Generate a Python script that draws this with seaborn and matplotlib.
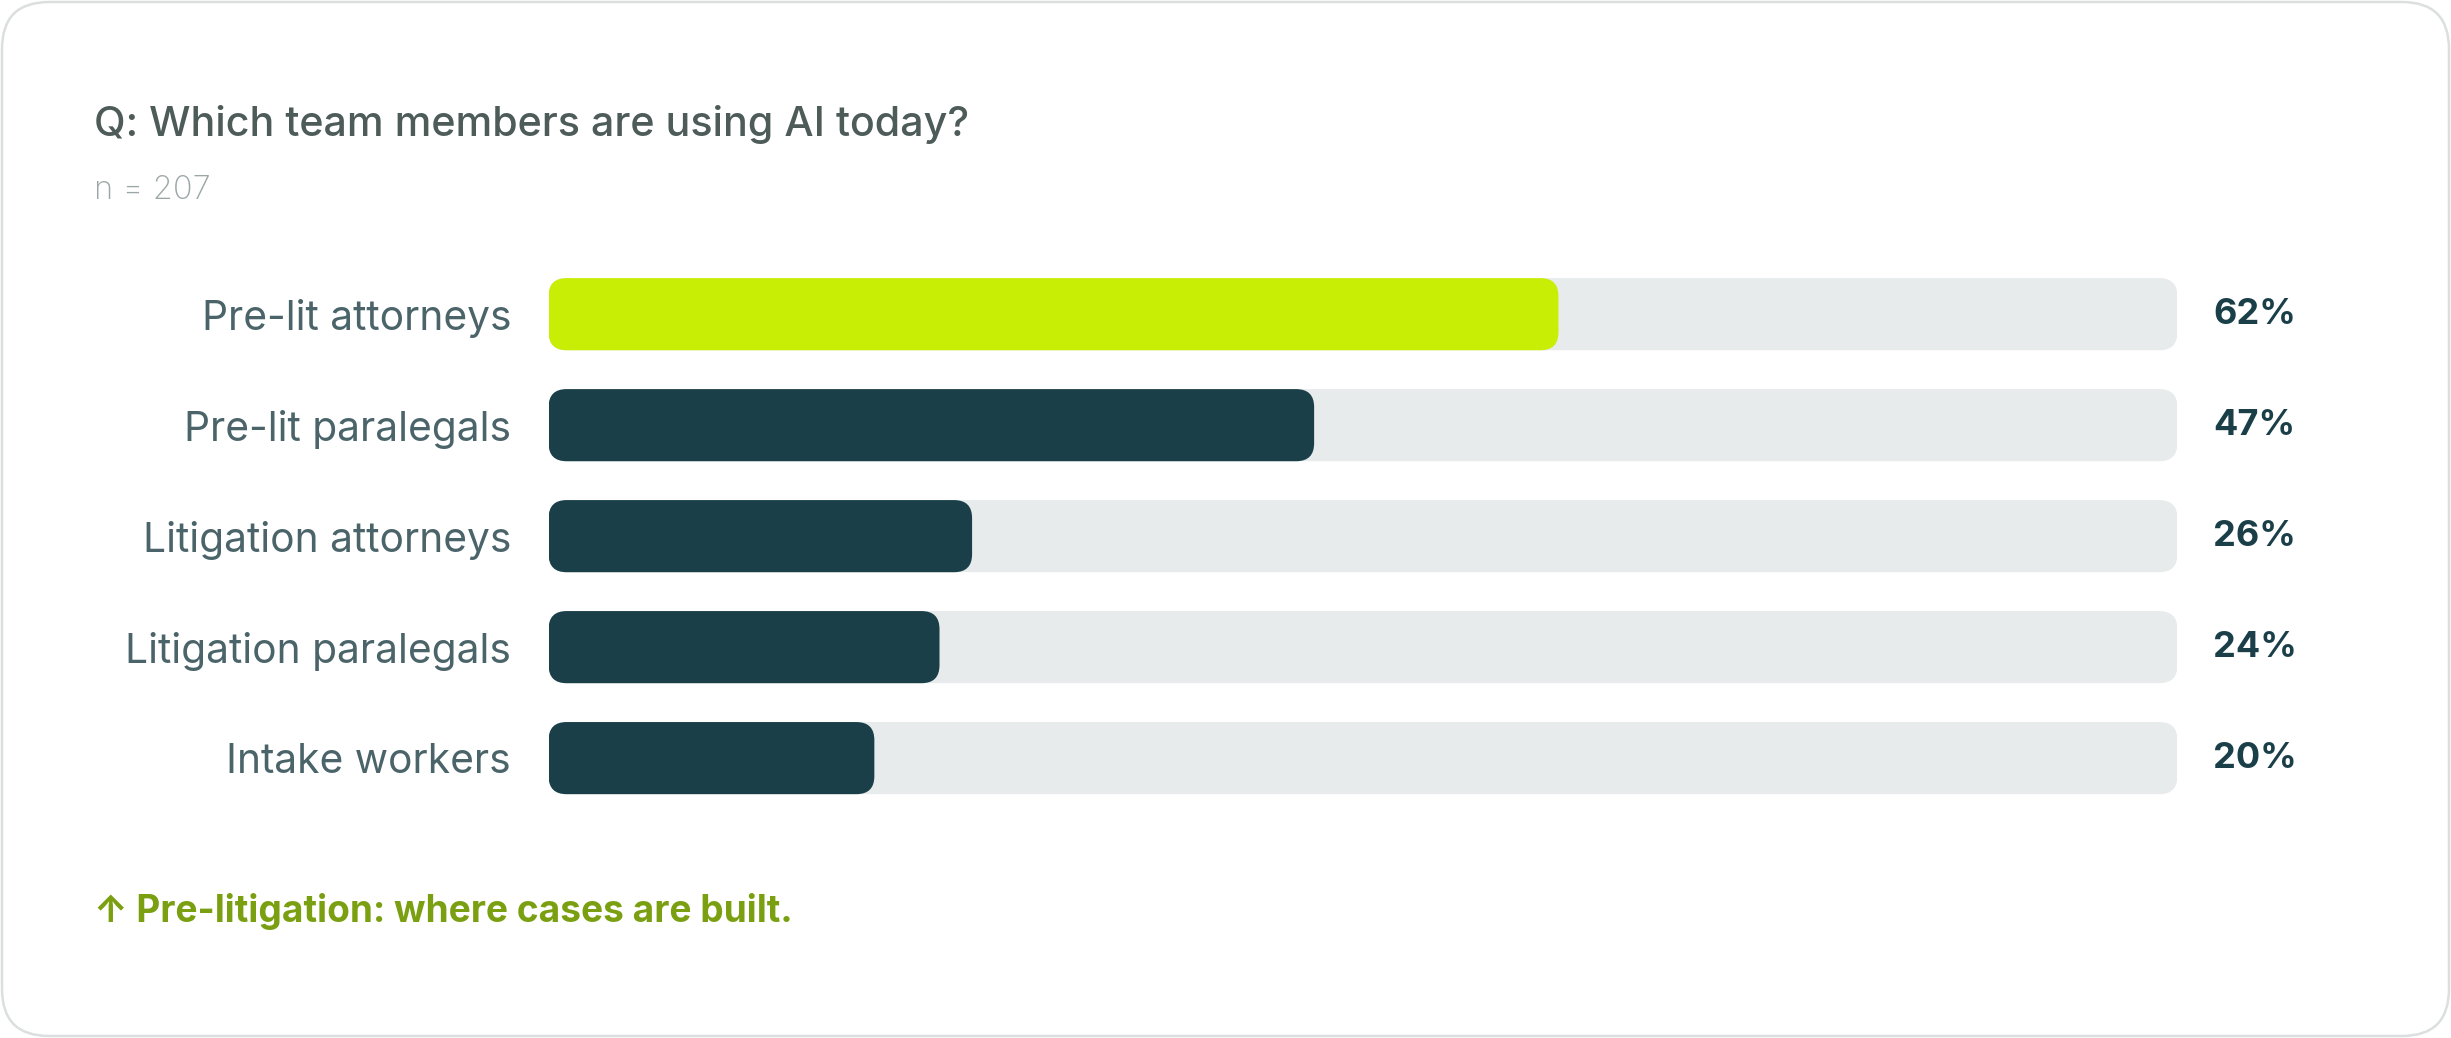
import matplotlib.pyplot as plt
import seaborn as sns
import pandas as pd
from matplotlib.patches import FancyBboxPatch, Rectangle

# data
categories = ["Pre-lit attorneys", "Pre-lit paralegals", "Litigation attorneys",
              "Litigation paralegals", "Intake workers"]
values = [62, 47, 26, 24, 20]
value_labels = ["62%", "47%", "26%", "24%", "20%"]
track = [100, 100, 100, 100, 100]
highlight = ["Pre-lit attorneys"]

title = "Q: Which team members are using AI today?"
subtitle = "n = 207"
footnote = "\u2191 Pre-litigation: where cases are built."

df = pd.DataFrame({"group": categories, "pct": values, "track": track})

sns.set_theme(style="white")
plt.rcParams['font.family'] = ['Inter', 'DejaVu Sans']

W, H = 2451, 1038
fig = plt.figure(figsize=(W / 100, H / 100), dpi=100)
fig.patch.set_facecolor("white")

# card outline
card_r = 47 / W
card = FancyBboxPatch((2 / W, 2 / H), 1 - 4 / W, 1 - 4 / H,
                      boxstyle=f"round,pad=0,rounding_size={card_r}",
                      mutation_aspect=W / H, transform=fig.transFigure,
                      facecolor="none", edgecolor="#dcdfdf", linewidth=1.8,
                      zorder=-1)
fig.patches.append(card)

ax = fig.add_axes([548.6 / W, 1 - 813.6 / H, (2177.4 - 548.6) / W, (813.6 - 258.7) / H])
ax.set_facecolor("none")

bar_w = 0.65
sns.barplot(data=df, y="group", x="track", color="#e8ebec", width=bar_w,
            saturation=1, ax=ax)
colors = ["#c8ee05" if c in highlight else "#1b3f48" for c in categories]
sns.barplot(data=df, y="group", x="pct", hue="group", palette=colors, legend=False,
            width=bar_w, saturation=1, ax=ax)

ax.set_xlim(0, 100)
ax.set_ylim(len(categories) - 0.5, -0.5)

# rounded bars
px_x = ax.get_position().width * W / 100
px_y = ax.get_position().height * H / len(categories)
asp = px_x / px_y
r = 18 / px_x
for p in list(ax.patches):
    if not isinstance(p, Rectangle):
        continue
    x, y = p.get_x(), p.get_y()
    w, h = p.get_width(), p.get_height()
    fc = p.get_facecolor()
    z = p.get_zorder()
    p.remove()
    ax.add_patch(FancyBboxPatch((x, y), w, h,
                                boxstyle=f"round,pad=0,rounding_size={r}",
                                mutation_aspect=asp, facecolor=fc,
                                edgecolor="none", zorder=z))

for i, lab in enumerate(value_labels):
    ax.annotate(lab, xy=(100, i), xytext=(25.6, 0), textcoords="offset points",
                ha="left", va="center", fontsize=26, fontweight="bold",
                color="#1b3f48")

ax.set_xlabel("")
ax.set_ylabel("")
ax.set_xticks([])
ax.tick_params(axis="y", left=False, length=0, pad=27, labelsize=29.3,
               labelcolor="#4a6469")
sns.despine(ax=ax, left=True, bottom=True)

fig.text(93.8 / W, 1 - 136 / H, title, ha="left", va="baseline", fontsize=29.7,
         fontweight="medium", color="#4d5b59")
fig.text(93.8 / W, 1 - 199 / H, subtitle, ha="left", va="baseline", fontsize=23.5,
         fontweight="light", color="#9ba7a6")
fig.text(93.8 / W, 1 - 922 / H, footnote, ha="left", va="baseline", fontsize=26.7,
         fontweight="bold", color="#7aa012")

fig.savefig("out.png", dpi=100, facecolor="white")
